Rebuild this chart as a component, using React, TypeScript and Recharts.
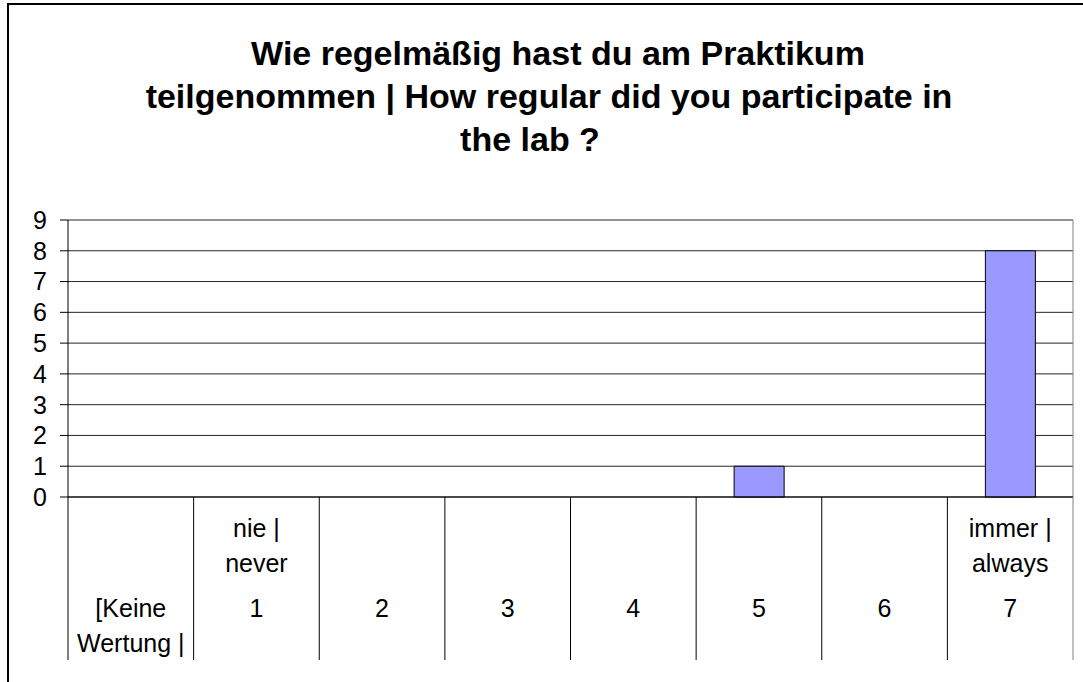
import React from 'react';
import { BarChart, Bar, XAxis, YAxis, CartesianGrid } from 'recharts';

const categories = ['keine', '1', '2', '3', '4', '5', '6', '7'];
const counts = [0, 0, 0, 0, 0, 1, 0, 8];
const tickLabelLines: string[][] = [
  ['', '', '[Keine', 'Wertung |'],
  ['nie |', 'never', '1'],
  ['', '', '2'],
  ['', '', '3'],
  ['', '', '4'],
  ['', '', '5'],
  ['', '', '6'],
  ['immer |', 'always', '7'],
];
const yTicks = [0, 1, 2, 3, 4, 5, 6, 7, 8, 9];
const titleLines = [
  'Wie regelmäßig hast du am Praktikum',
  'teilgenommen | How regular did you participate in',
  'the lab ?',
];

const data = categories.map((c, i) => ({ category: c, count: counts[i] }));

const FONT = '"Liberation Sans", Arial, Helvetica, sans-serif';
const ROW_OFFSETS = [40, 75, 120, 155];
const DIVIDER_LEN = 163;

function CategoryTick(props: any) {
  const { x, y, payload, width, visibleTicksCount } = props;
  const idx = categories.indexOf(payload.value);
  const lines = tickLabelLines[idx] || [];
  const half = width && visibleTicksCount ? width / visibleTicksCount / 2 : 62.8;
  const isLast = idx === categories.length - 1;
  return (
    <g>
      <line x1={x - half} x2={x - half} y1={y} y2={y + DIVIDER_LEN} stroke="#000" strokeWidth={1} />
      {isLast && (
        <line x1={x + half} x2={x + half} y1={y} y2={y + DIVIDER_LEN} stroke="#808080" strokeWidth={1} />
      )}
      {lines.map((t, i) =>
        t ? (
          <text key={i} x={x} y={y + ROW_OFFSETS[i]} textAnchor="middle" fontSize={25} fontFamily={FONT} fill="#000">
            {t}
          </text>
        ) : null
      )}
    </g>
  );
}

export default function App() {
  const titleX = [558, 549, 530];
  const titleY = [65, 108, 151];
  return (
    <div style={{ position: 'absolute', left: 0, top: 0, width: 1083, height: 682, overflow: 'hidden', background: '#fff' }}>
      <div
        style={{
          position: 'absolute',
          left: 7,
          top: 3,
          width: 1200,
          height: 1000,
          borderLeft: '2px solid #000',
          borderTop: '2px solid #000',
        }}
      />
      <svg width={1083} height={200} style={{ position: 'absolute', left: 0, top: 0 }}>
        {titleLines.map((t, i) => (
          <text key={i} x={titleX[i]} y={titleY[i]} textAnchor="middle" fontSize={34} fontWeight="bold" fontFamily={FONT} fill="#000">
            {t}
          </text>
        ))}
      </svg>
      <div style={{ position: 'absolute', left: 0, top: 0 }}>
        <BarChart width={1083} height={682} data={data} margin={{ top: 220, right: 10, bottom: 0, left: 0 }} barSize={50}>
          <CartesianGrid horizontal={true} vertical={false} stroke="#000" strokeOpacity={0.85} />
          <CartesianGrid
            horizontal={false}
            vertical={true}
            stroke="#808080"
            verticalCoordinatesGenerator={({ offset }: any) => [offset.left + offset.width]}
          />
          <XAxis
            dataKey="category"
            height={185}
            interval={0}
            tickLine={false}
            tickSize={0}
            tickMargin={0}
            axisLine={{ stroke: '#000' }}
            tick={<CategoryTick />}
          />
          <YAxis
            width={68}
            domain={[0, 9]}
            ticks={yTicks}
            interval={0}
            tickSize={8}
            tickMargin={13}
            tickLine={{ stroke: '#000' }}
            axisLine={{ stroke: '#000' }}
            tick={{ fill: '#000', fontSize: 25, fontFamily: FONT }}
          />
          <Bar dataKey="count" fill="#9999FF" stroke="#000" strokeWidth={1} isAnimationActive={false} />
        </BarChart>
      </div>
    </div>
  );
}
